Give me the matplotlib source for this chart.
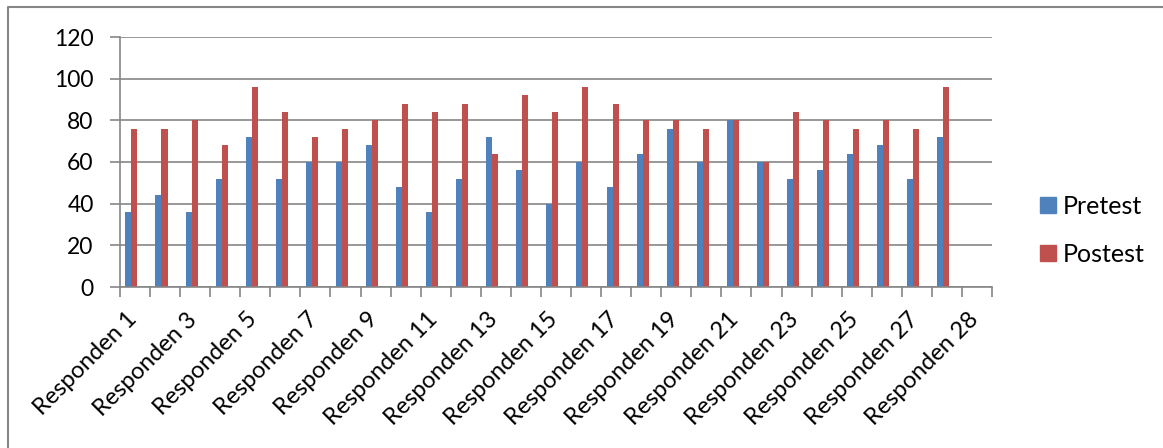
import numpy as np
import matplotlib
import matplotlib.pyplot as plt
from matplotlib.lines import Line2D

matplotlib.use('Agg')

# pretest / postest scores per respondent (last slot is empty)
responden = ["Responden %d" % i for i in range(1, 28)] + ["", "Responden 28"]
pretest = [36, 44, 36, 52, 72, 52, 60, 60, 68, 48, 36, 52, 72, 56, 40, 60,
           48, 64, 76, 60, 80, 60, 52, 56, 64, 68, 52, 72, np.nan]
postest = [76, 76, 80, 68, 96, 84, 72, 76, 80, 88, 84, 88, 64, 92, 84, 96,
           88, 80, 80, 76, 80, 60, 84, 80, 76, 80, 76, 96, np.nan]

plt.rcParams['font.family'] = ['Lato', 'DejaVu Sans']

fig = plt.figure(figsize=(11.63, 4.48), dpi=100)
ax = fig.add_axes([120 / 1163, 1 - 287 / 448, 872 / 1163, 250 / 448])

x = np.arange(len(responden))
w = 0.2
off = -0.12
ax.bar(x + off - w / 2, pretest, w, color='#4F81BD', label='Pretest')
ax.bar(x + off + w / 2, postest, w, color='#C0504D', label='Postest')

ax.set_xlim(-0.5, len(responden) - 0.5)
ax.set_ylim(0, 120)
ax.set_yticks(range(0, 121, 20))
ax.yaxis.grid(True, color='#868686', lw=1.2)
ax.set_axisbelow(True)

for s in ['top', 'right']:
    ax.spines[s].set_visible(False)
for s in ['left', 'bottom']:
    ax.spines[s].set_color('#868686')
    ax.spines[s].set_linewidth(1.2)

# category boundaries get the tick marks, labels sit on every other group
ax.set_xticks(np.arange(-0.5, len(responden)))
ax.set_xticklabels([])
ax.tick_params(axis='x', length=7, color='#868686', width=1.2)
ax.tick_params(axis='y', length=7, color='#868686', width=1.2, labelsize=16.5, pad=12)
for i in range(0, len(responden), 2):
    ax.text(i - 0.05, -14, responden[i], rotation=45, rotation_mode='anchor',
            ha='right', va='center', fontsize=17)

handles = [Line2D([], [], marker='s', ls='', markersize=11, color='#4F81BD'),
           Line2D([], [], marker='s', ls='', markersize=11, color='#C0504D')]
fig.legend(handles, ['Pretest', 'Postest'], loc='center left',
           bbox_to_anchor=(1035 / 1163, 1 - 230 / 448), frameon=False,
           fontsize=18, handlelength=1, handletextpad=0.1, borderpad=0,
           borderaxespad=0, labelspacing=1.0)

# chart frame (top and left edges)
fig.add_artist(Line2D([8 / 1163, 8 / 1163, 1], [0, 1 - 7 / 448, 1 - 7 / 448],
                      color='#868686', lw=1.5, transform=fig.transFigure))

fig.savefig('out.png', dpi=100)
